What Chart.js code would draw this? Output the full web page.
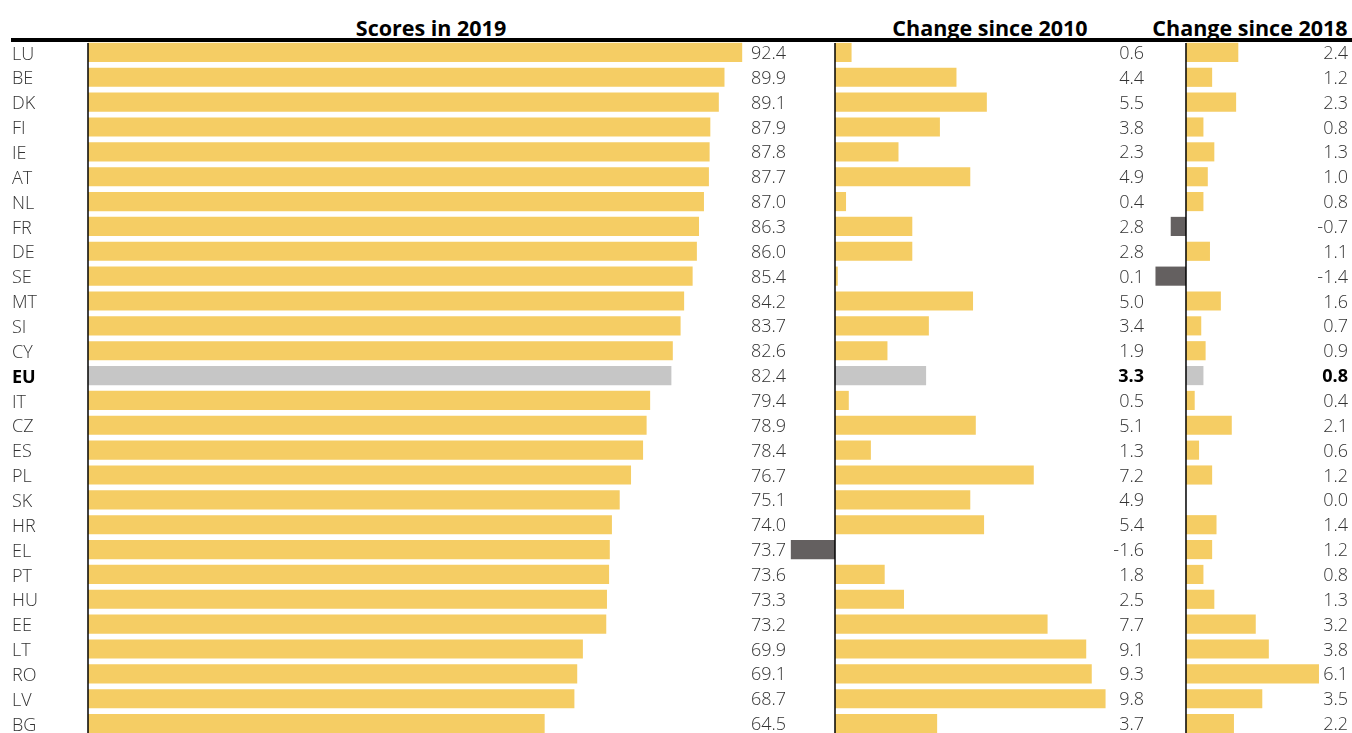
<!DOCTYPE html>
<html>
<head>
<meta charset="utf-8">
<script src="https://cdn.jsdelivr.net/npm/chart.js@4.4.1/dist/chart.umd.min.js"></script>
<style>
  html, body { margin:0; padding:0; background:#fff; overflow:hidden; width:1352px; height:733px; }
  .wrap { position:relative; width:1352px; height:733px; }
  canvas { position:absolute; }
  .title { position:absolute; top:16px; font-family:"Open Sans", sans-serif; font-weight:700; font-size:21.5px; color:#000; white-space:nowrap; transform:translateX(-50%); line-height:24px; }
  .rule { position:absolute; left:11px; top:38px; width:1341px; height:3.5px; background:#000; }
</style>
</head>
<body>
<div class="wrap">
  <div class="title" id="t1"></div>
  <div class="title" id="t2"></div>
  <div class="title" id="t3"></div>
  <div class="rule"></div>
  <canvas id="c1" width="800" height="696" style="left:0px;top:40px"></canvas>
  <canvas id="c2" width="360" height="696" style="left:790px;top:40px"></canvas>
  <canvas id="c3" width="202" height="696" style="left:1150px;top:40px"></canvas>
</div>
<script>
const countries = ['LU','BE','DK','FI','IE','AT','NL','FR','DE','SE','MT','SI','CY','EU','IT','CZ','ES','PL','SK','HR','EL','PT','HU','EE','LT','RO','LV','BG'];
const scores2019 = [92.4,89.9,89.1,87.9,87.8,87.7,87.0,86.3,86.0,85.4,84.2,83.7,82.6,82.4,79.4,78.9,78.4,76.7,75.1,74.0,73.7,73.6,73.3,73.2,69.9,69.1,68.7,64.5];
const change2010 = [0.6,4.4,5.5,3.8,2.3,4.9,0.4,2.8,2.8,0.1,5.0,3.4,1.9,3.3,0.5,5.1,1.3,7.2,4.9,5.4,-1.6,1.8,2.5,7.7,9.1,9.3,9.8,3.7];
const change2018 = [2.4,1.2,2.3,0.8,1.3,1.0,0.8,-0.7,1.1,-1.4,1.6,0.7,0.9,0.8,0.4,2.1,0.6,1.2,0.0,1.4,1.2,0.8,1.3,3.2,3.8,6.1,3.5,2.2];
const panelTitles = ['Scores in 2019','Change since 2010','Change since 2018'];

const YELLOW = '#F5CD64', GREY = '#C6C6C6', DARK = '#646060', TEXT = '#333333';
const FONT = '"Open Sans", sans-serif';

document.getElementById('t1').textContent = panelTitles[0];
document.getElementById('t2').textContent = panelTitles[1];
document.getElementById('t3').textContent = panelTitles[2];
document.getElementById('t1').style.left = '431px';
document.getElementById('t2').style.left = '990px';
document.getElementById('t3').style.left = '1250px';

function labelPlugin(labelX, boldEU) {
  return {
    id: 'valueLabels',
    afterDatasetsDraw(chart) {
      const {ctx, chartArea} = chart;
      const meta = chart.getDatasetMeta(0);
      const data = chart.data.datasets[0].data;
      ctx.save();
      const x0 = chart.scales.x.getPixelForValue(0);
      ctx.strokeStyle = '#000';
      ctx.lineWidth = 1.5;
      ctx.beginPath();
      ctx.moveTo(x0, chartArea.top + 3);
      ctx.lineTo(x0, chartArea.bottom);
      ctx.stroke();
      ctx.textAlign = 'right';
      ctx.textBaseline = 'middle';
      meta.data.forEach((bar, i) => {
        const bold = boldEU && chart.data.labels[i] === 'EU';
        ctx.font = (bold ? '700 ' : '300 ') + '18px ' + FONT;
        ctx.fillStyle = bold ? '#000' : TEXT;
        ctx.fillText(data[i].toFixed(1), labelX, bar.y + 1.5);
      });
      ctx.restore();
    }
  };
}

function barColor(ctx) {
  const lbl = countries[ctx.dataIndex];
  const v = ctx.raw;
  if (lbl === 'EU') return GREY;
  if (v < 0) return DARK;
  return YELLOW;
}

function makeChart(id, values, xmin, xmax, showY, labelX, boldEU, padding) {
  const yScale = {
    display: showY,
    grid: { display: false },
    border: { display: false },
    ticks: {
      crossAlign: 'far',
      padding: 0,
      labelOffset: 2,
      color: (c) => countries[c.index] === 'EU' ? '#000' : TEXT,
      font: (c) => ({ family: FONT, size: 18, weight: countries[c.index] === 'EU' ? '700' : '300' })
    }
  };
  if (showY) {
    yScale.afterFit = (s) => { s.width = 76; s.paddingTop = 0; s.paddingBottom = 0; };
  }
  return new Chart(document.getElementById(id), {
    type: 'bar',
    data: {
      labels: countries,
      datasets: [{
        data: values,
        backgroundColor: barColor,
        borderWidth: 0,
        barPercentage: 0.77,
        categoryPercentage: 1.0
      }]
    },
    options: {
      indexAxis: 'y',
      responsive: false,
      animation: false,
      layout: { padding: padding },
      plugins: { legend: { display: false }, tooltip: { enabled: false } },
      scales: {
        x: { display: false, min: xmin, max: xmax },
        y: yScale
      }
    },
    plugins: [labelPlugin(labelX, boldEU)]
  });
}

Promise.all([
  document.fonts.load('300 18px "Open Sans"'),
  document.fonts.load('700 18px "Open Sans"')
]).catch(()=>{}).then(() => {
  makeChart('c1', scores2019, 0, 100, true, 786, false, {left: 12, right: 4, top: 0, bottom: 0});
  makeChart('c2', change2010, -1.63, 11.41, false, 354, true, 0);
  makeChart('c3', change2018, -1.651, 7.615, false, 198, true, 0);
});
</script>
</body>
</html>
